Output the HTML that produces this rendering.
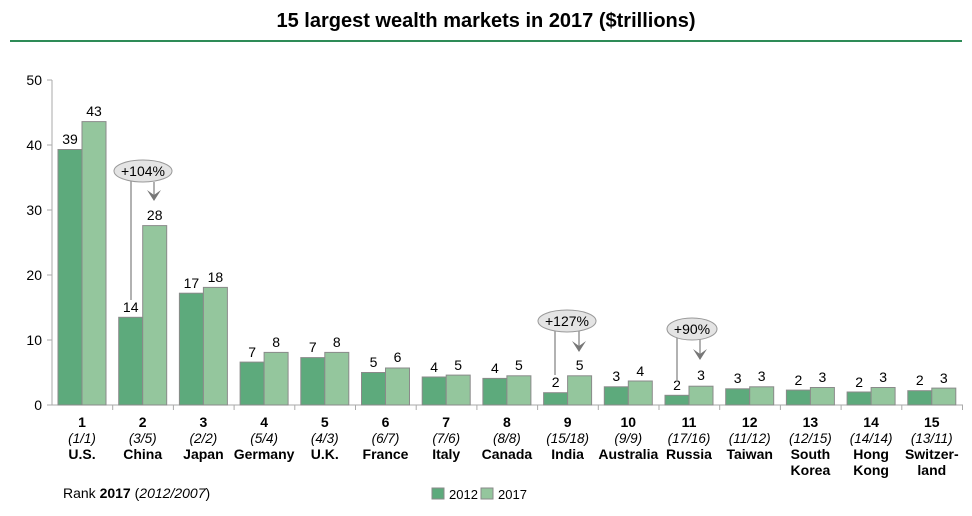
<!DOCTYPE html>
<html><head><meta charset="utf-8"><style>
body{margin:0;background:#fff}
svg{display:block;font-family:"Liberation Sans",Arial,sans-serif}
.d{fill:#5daa7c;stroke:#8a8a8a;stroke-width:1}
.l{fill:#94c69d;stroke:#8a8a8a;stroke-width:1}
.v{font-size:14px;text-anchor:middle;fill:#000}
.r{font-size:14px;font-weight:bold;text-anchor:middle}
.p{font-size:13.5px;font-style:italic;text-anchor:middle}
.n{font-size:14px;font-weight:bold;text-anchor:middle}
.y{font-size:14px;text-anchor:end}
</style></head><body>
<svg width="972" height="516" viewBox="0 0 972 516">
<text x="486" y="27" font-size="20" font-weight="bold" text-anchor="middle">15 largest wealth markets in 2017 ($trillions)</text>
<line x1="10" y1="41" x2="962" y2="41" stroke="#2e8b57" stroke-width="2"/>
<g stroke="#aaa" stroke-width="1">
<line x1="52" y1="80" x2="52" y2="405"/>
<line x1="52" y1="405" x2="963" y2="405"/>
<line x1="47" y1="80" x2="52" y2="80"/><line x1="47" y1="145" x2="52" y2="145"/><line x1="47" y1="210" x2="52" y2="210"/><line x1="47" y1="275" x2="52" y2="275"/><line x1="47" y1="340" x2="52" y2="340"/><line x1="47" y1="405" x2="52" y2="405"/>
<line x1="112.7" y1="405" x2="112.7" y2="410"/><line x1="173.4" y1="405" x2="173.4" y2="410"/><line x1="234.1" y1="405" x2="234.1" y2="410"/><line x1="294.8" y1="405" x2="294.8" y2="410"/><line x1="355.5" y1="405" x2="355.5" y2="410"/><line x1="416.2" y1="405" x2="416.2" y2="410"/><line x1="476.9" y1="405" x2="476.9" y2="410"/><line x1="537.6" y1="405" x2="537.6" y2="410"/><line x1="598.3" y1="405" x2="598.3" y2="410"/><line x1="659" y1="405" x2="659" y2="410"/><line x1="719.7" y1="405" x2="719.7" y2="410"/><line x1="780.4" y1="405" x2="780.4" y2="410"/><line x1="841.1" y1="405" x2="841.1" y2="410"/><line x1="901.8" y1="405" x2="901.8" y2="410"/><line x1="962.5" y1="405" x2="962.5" y2="410"/>
</g>
<text class="y" x="42" y="85">50</text><text class="y" x="42" y="150">40</text><text class="y" x="42" y="215">30</text><text class="y" x="42" y="280">20</text><text class="y" x="42" y="345">10</text><text class="y" x="42" y="410">0</text>
<rect class="d" x="58" y="149.5" width="24" height="255.5"/><rect class="l" x="82" y="121.6" width="24" height="283.4"/>
<rect class="d" x="118.7" y="317.3" width="24" height="87.7"/><rect class="l" x="142.7" y="225.6" width="24" height="179.4"/>
<rect class="d" x="179.4" y="293.2" width="24" height="111.8"/><rect class="l" x="203.4" y="287.4" width="24" height="117.6"/>
<rect class="d" x="240.1" y="362.1" width="24" height="42.9"/><rect class="l" x="264.1" y="352.4" width="24" height="52.6"/>
<rect class="d" x="300.8" y="357.6" width="24" height="47.4"/><rect class="l" x="324.8" y="352.4" width="24" height="52.6"/>
<rect class="d" x="361.5" y="372.5" width="24" height="32.5"/><rect class="l" x="385.5" y="368" width="24" height="37"/>
<rect class="d" x="422.2" y="377" width="24" height="28"/><rect class="l" x="446.2" y="375.1" width="24" height="29.9"/>
<rect class="d" x="482.9" y="378.4" width="24" height="26.6"/><rect class="l" x="506.9" y="375.8" width="24" height="29.2"/>
<rect class="d" x="543.6" y="392.7" width="24" height="12.3"/><rect class="l" x="567.6" y="375.8" width="24" height="29.2"/>
<rect class="d" x="604.3" y="386.8" width="24" height="18.2"/><rect class="l" x="628.3" y="381" width="24" height="24"/>
<rect class="d" x="665" y="395.3" width="24" height="9.7"/><rect class="l" x="689" y="386.2" width="24" height="18.8"/>
<rect class="d" x="725.7" y="388.8" width="24" height="16.2"/><rect class="l" x="749.7" y="386.8" width="24" height="18.2"/>
<rect class="d" x="786.4" y="390.1" width="24" height="14.9"/><rect class="l" x="810.4" y="387.5" width="24" height="17.5"/>
<rect class="d" x="847.1" y="392" width="24" height="13"/><rect class="l" x="871.1" y="387.5" width="24" height="17.5"/>
<rect class="d" x="907.8" y="390.7" width="24" height="14.3"/><rect class="l" x="931.8" y="388.1" width="24" height="16.9"/>
<text class="v" x="70" y="144">39</text><text class="v" x="94" y="116">43</text>
<text class="v" x="130.7" y="312">14</text><text class="v" x="154.7" y="220">28</text>
<text class="v" x="191.4" y="288">17</text><text class="v" x="215.4" y="282">18</text>
<text class="v" x="252.1" y="357">7</text><text class="v" x="276.1" y="347">8</text>
<text class="v" x="312.8" y="352">7</text><text class="v" x="336.8" y="347">8</text>
<text class="v" x="373.5" y="367">5</text><text class="v" x="397.5" y="362">6</text>
<text class="v" x="434.2" y="372">4</text><text class="v" x="458.2" y="370">5</text>
<text class="v" x="494.9" y="373">4</text><text class="v" x="518.9" y="370">5</text>
<text class="v" x="555.6" y="387">2</text><text class="v" x="579.6" y="370">5</text>
<text class="v" x="616.3" y="381">3</text><text class="v" x="640.3" y="376">4</text>
<text class="v" x="677" y="390">2</text><text class="v" x="701" y="380">3</text>
<text class="v" x="737.7" y="383">3</text><text class="v" x="761.7" y="381">3</text>
<text class="v" x="798.4" y="385">2</text><text class="v" x="822.4" y="382">3</text>
<text class="v" x="859.1" y="387">2</text><text class="v" x="883.1" y="382">3</text>
<text class="v" x="919.8" y="385">2</text><text class="v" x="943.8" y="383">3</text>
<g stroke="#888" stroke-width="1.3" fill="none">
<line x1="131" y1="180" x2="131" y2="300"/><line x1="154" y1="182" x2="154" y2="200"/>
<line x1="555" y1="330" x2="555" y2="375"/><line x1="579" y1="330" x2="579" y2="351"/>
<line x1="677" y1="338" x2="677" y2="382"/><line x1="700" y1="338" x2="700" y2="359"/>
</g>
<g fill="#777"><path d="M147,190 L154,195 L161,190 L154,201Z"/><path d="M572,341 L579,346 L586,341 L579,352Z"/><path d="M693,349 L700,354 L707,349 L700,360Z"/></g>
<g fill="#e4e4e4" stroke="#999"><ellipse cx="143" cy="171" rx="29" ry="11"/><ellipse cx="567" cy="321" rx="29" ry="11"/><ellipse cx="692" cy="329" rx="25" ry="11"/></g>
<text class="v" x="143" y="176">+104%</text><text class="v" x="567" y="326">+127%</text><text class="v" x="692" y="334">+90%</text>
<g>
<text class="r" x="82" y="427">1</text><text class="p" x="82" y="443">(1/1)</text><text class="n" x="82" y="459">U.S.</text>
<text class="r" x="142.7" y="427">2</text><text class="p" x="142.7" y="443">(3/5)</text><text class="n" x="142.7" y="459">China</text>
<text class="r" x="203.4" y="427">3</text><text class="p" x="203.4" y="443">(2/2)</text><text class="n" x="203.4" y="459">Japan</text>
<text class="r" x="264.1" y="427">4</text><text class="p" x="264.1" y="443">(5/4)</text><text class="n" x="264.1" y="459">Germany</text>
<text class="r" x="324.8" y="427">5</text><text class="p" x="324.8" y="443">(4/3)</text><text class="n" x="324.8" y="459">U.K.</text>
<text class="r" x="385.5" y="427">6</text><text class="p" x="385.5" y="443">(6/7)</text><text class="n" x="385.5" y="459">France</text>
<text class="r" x="446.2" y="427">7</text><text class="p" x="446.2" y="443">(7/6)</text><text class="n" x="446.2" y="459">Italy</text>
<text class="r" x="506.9" y="427">8</text><text class="p" x="506.9" y="443">(8/8)</text><text class="n" x="506.9" y="459">Canada</text>
<text class="r" x="567.6" y="427">9</text><text class="p" x="567.6" y="443">(15/18)</text><text class="n" x="567.6" y="459">India</text>
<text class="r" x="628.3" y="427">10</text><text class="p" x="628.3" y="443">(9/9)</text><text class="n" x="628.3" y="459">Australia</text>
<text class="r" x="689" y="427">11</text><text class="p" x="689" y="443">(17/16)</text><text class="n" x="689" y="459">Russia</text>
<text class="r" x="749.7" y="427">12</text><text class="p" x="749.7" y="443">(11/12)</text><text class="n" x="749.7" y="459">Taiwan</text>
<text class="r" x="810.4" y="427">13</text><text class="p" x="810.4" y="443">(12/15)</text><text class="n" x="810.4" y="459">South</text><text class="n" x="810.4" y="475">Korea</text>
<text class="r" x="871.1" y="427">14</text><text class="p" x="871.1" y="443">(14/14)</text><text class="n" x="871.1" y="459">Hong</text><text class="n" x="871.1" y="475">Kong</text>
<text class="r" x="931.8" y="427">15</text><text class="p" x="931.8" y="443">(13/11)</text><text class="n" x="931.8" y="459">Switzer-</text><text class="n" x="931.8" y="475">land</text>
</g>
<text x="63" y="498" font-size="14">Rank <tspan font-weight="bold">2017</tspan> (<tspan font-style="italic">2012/2007</tspan>)</text>
<rect class="d" x="432" y="488" width="12" height="11"/><text x="449" y="499" font-size="13">2012</text>
<rect class="l" x="481" y="488" width="12" height="11"/><text x="498" y="499" font-size="13">2017</text>
</svg>
</body></html>
